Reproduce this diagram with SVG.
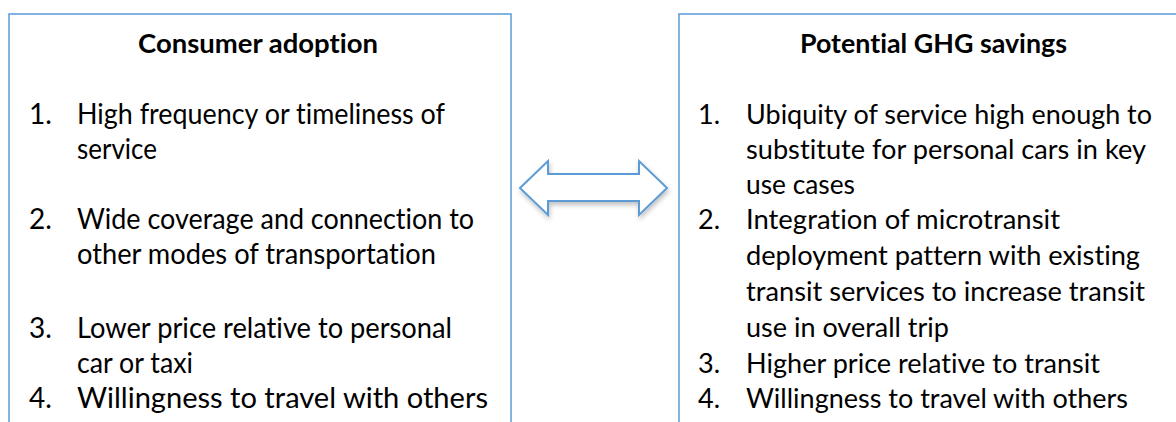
<svg xmlns="http://www.w3.org/2000/svg" width="1176" height="422" viewBox="0 0 1176 422">
<style>
.box{fill:#fff;stroke:#5b9bd5;stroke-width:1.5}
.t{font-family:Lato,"Open Sans","Liberation Sans",sans-serif;font-size:28px;fill:#000;font-variant-ligatures:none}
.r{font-size:27px}
.h{font-family:Lato,"Open Sans","Liberation Sans",sans-serif;font-size:27.5px;font-weight:bold;fill:#000;text-anchor:middle;font-variant-ligatures:none}
.arrow{fill:#fff;stroke:#5b9bd5;stroke-width:2;stroke-linejoin:miter}
</style>
<defs>
<filter id="sh" x="-20%" y="-40%" width="140%" height="180%">
<feGaussianBlur in="SourceAlpha" stdDeviation="2.5"/>
<feOffset dx="1" dy="3" result="b"/>
<feComponentTransfer><feFuncA type="linear" slope="0.25"/></feComponentTransfer>
<feMerge><feMergeNode/><feMergeNode in="SourceGraphic"/></feMerge>
</filter>
</defs>
<rect width="1176" height="422" fill="#fff"/>
<g id="consumer-adoption">
<rect class="box" x="9" y="14" width="502" height="420"/>
<text class="h" x="258" y="53" textLength="240" lengthAdjust="spacingAndGlyphs">Consumer adoption</text>
<text class="t" x="29" y="124">1.</text><text class="t" x="77" y="124" textLength="368" lengthAdjust="spacingAndGlyphs">High frequency or timeliness of</text>
<text class="t" x="77" y="159" textLength="80" lengthAdjust="spacingAndGlyphs">service</text>
<text class="t" x="29" y="229">2.</text><text class="t" x="77" y="229" textLength="397" lengthAdjust="spacingAndGlyphs">Wide coverage and connection to</text>
<text class="t" x="77" y="264" textLength="359" lengthAdjust="spacingAndGlyphs">other modes of transportation</text>
<text class="t" x="29" y="338">3.</text><text class="t" x="77" y="338" textLength="375" lengthAdjust="spacingAndGlyphs">Lower price relative to personal</text>
<text class="t" x="77" y="373" textLength="116" lengthAdjust="spacingAndGlyphs">car or taxi</text>
<text class="t" x="29" y="408">4.</text><text class="t" x="77" y="408" textLength="411" lengthAdjust="spacingAndGlyphs">Willingness to travel with others</text>
</g>
<g id="ghg-savings">
<rect class="box" x="679" y="14" width="510" height="420"/>
<text class="h" x="933.5" y="53" textLength="267" lengthAdjust="spacingAndGlyphs">Potential GHG savings</text>
<text class="t r" x="698" y="124">1.</text><text class="t r" x="746" y="124" textLength="406" lengthAdjust="spacingAndGlyphs">Ubiquity of service high enough to</text>
<text class="t r" x="746" y="159" textLength="400" lengthAdjust="spacingAndGlyphs">substitute for personal cars in key</text>
<text class="t r" x="746" y="194" textLength="109" lengthAdjust="spacingAndGlyphs">use cases</text>
<text class="t r" x="698" y="229">2.</text><text class="t r" x="746" y="229" textLength="314" lengthAdjust="spacingAndGlyphs">Integration of microtransit</text>
<text class="t r" x="746" y="265" textLength="394" lengthAdjust="spacingAndGlyphs">deployment pattern with existing</text>
<text class="t r" x="746" y="301" textLength="399" lengthAdjust="spacingAndGlyphs">transit services to increase transit</text>
<text class="t r" x="746" y="337" textLength="203" lengthAdjust="spacingAndGlyphs">use in overall trip</text>
<text class="t r" x="698" y="373">3.</text><text class="t r" x="746" y="373" textLength="354" lengthAdjust="spacingAndGlyphs">Higher price relative to transit</text>
<text class="t r" x="698" y="408">4.</text><text class="t r" x="746" y="408" textLength="382" lengthAdjust="spacingAndGlyphs">Willingness to travel with others</text>
</g>
<g id="connectors">
<polygon class="arrow" filter="url(#sh)" points="520,188 548,161 548,174 639,174 639,161 667,188 639,215 639,201 548,201 548,215"/>
</g>
</svg>
